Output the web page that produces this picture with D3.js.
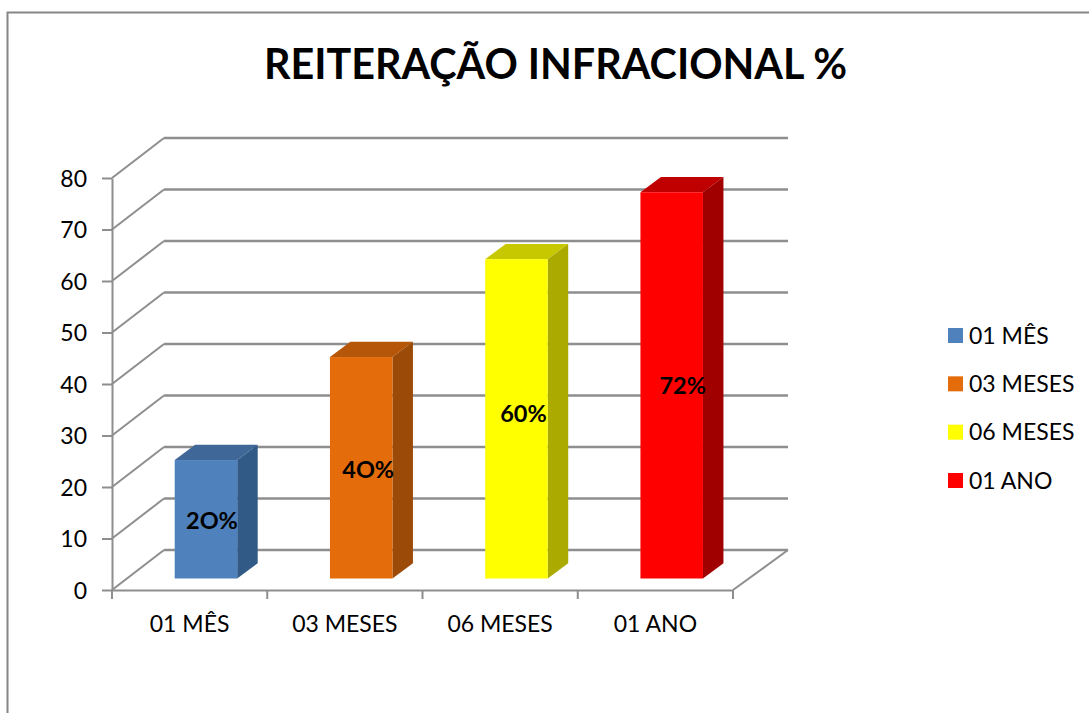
<!DOCTYPE html>
<html>
<head>
<meta charset="utf-8">
<script src="https://cdn.jsdelivr.net/npm/d3@7"></script>
<style>
  html, body { margin: 0; padding: 0; background: #fff; overflow: hidden; }
  text { font-family: Lato, "Open Sans", sans-serif; fill: #000; }
  .grid { stroke: #8e8e8e; stroke-width: 2.6; fill: none; }
  .diag { stroke: #8e8e8e; stroke-width: 2; fill: none; }
  .axis path, .axis line { stroke: #8e8e8e; stroke-width: 2; }
  .axis text { font-size: 23px; }
</style>
</head>
<body>
<svg id="chart" width="1089" height="713"></svg>
<script>
// values
var categories = ["01 MÊS", "03 MESES", "06 MESES", "01 ANO"];
var values = [23, 43, 62, 75];
var barLabels = ["2O%", "4O%", "60%", "72%"];
var yTicks = [0, 10, 20, 30, 40, 50, 60, 70, 80];
var frontColors = ["#4f81bd", "#e46c0a", "#ffff00", "#ff0000"];
var topColors = ["#3f6797", "#b65608", "#c8c800", "#c00000"];
var sideColors = ["#325a86", "#9c4a07", "#aaaa00", "#a00000"];

var svg = d3.select("#chart");

var x = d3.scaleBand().domain(categories).range([112, 733]);
var y = d3.scaleLinear().domain([0, 80]).range([590, 178]);

// 3d offsets: back wall, floor inset of a bar, bar depth
var wall = { dx: 52, dy: -40 };
var inset = { dx: 62.7, dy: -11.5 };
var depth = { dx: 20.5, dy: -15.3 };
var barWidth = 62.5;

// the data labels were placed by hand in the original chart
var labelShift = [[6, 1], [7, 2], [7, -5], [11, 0]];

// outer chart frame, cut by the page on the right and bottom
svg.append("path")
  .attr("d", "M7.5,713V12.5H1089")
  .attr("fill", "none")
  .attr("stroke", "#868686")
  .attr("stroke-width", 2);

svg.append("text")
  .attr("x", 555.5)
  .attr("y", 79)
  .attr("text-anchor", "middle")
  .attr("font-size", 41.3)
  .attr("font-weight", 700)
  .text("REITERAÇÃO INFRACIONAL %");

// back wall gridlines and the slanted side wall lines
svg.selectAll(".grid").data(yTicks).enter()
  .append("line")
  .attr("class", "grid")
  .attr("x1", x.range()[0] + wall.dx)
  .attr("x2", 788)
  .attr("y1", function(d) { return y(d) + wall.dy; })
  .attr("y2", function(d) { return y(d) + wall.dy; });

svg.selectAll(".diag").data(yTicks).enter()
  .append("line")
  .attr("class", "diag")
  .attr("x1", x.range()[0])
  .attr("x2", x.range()[0] + wall.dx)
  .attr("y1", function(d) { return y(d); })
  .attr("y2", function(d) { return y(d) + wall.dy; });

svg.append("line")
  .attr("class", "diag")
  .attr("x1", x.range()[1])
  .attr("x2", 788)
  .attr("y1", y(0))
  .attr("y2", y(0) + wall.dy);

var yAxis = svg.append("g")
  .attr("class", "axis")
  .attr("transform", "translate(" + x.range()[0] + ",0)")
  .call(d3.axisLeft(y).tickValues(yTicks).tickSize(10).tickSizeOuter(0).tickPadding(15));

yAxis.selectAll("text").attr("dy", "0.36em");

// band ticks sit between the categories, so they are added by hand below
var xAxis = svg.append("g")
  .attr("class", "axis")
  .attr("transform", "translate(0," + y(0) + ")")
  .call(d3.axisBottom(x).tickSize(0).tickSizeOuter(0).tickPadding(26));

xAxis.selectAll(".sep")
  .data(categories.map(function(c) { return x(c); }).concat(x.range()[1]))
  .enter()
  .append("line")
  .attr("class", "sep")
  .attr("x1", function(d) { return d; })
  .attr("x2", function(d) { return d; })
  .attr("y1", 0)
  .attr("y2", 9);

// bars
var bars = svg.selectAll(".bar").data(categories).enter()
  .append("g")
  .attr("class", "bar");

bars.each(function(c, i) {
  var g = d3.select(this);
  var left = x(c) + inset.dx;
  var right = left + barWidth;
  var bottom = y(0) + inset.dy;
  var top = bottom - (y(0) - y(values[i]));

  g.append("path")
    .attr("fill", topColors[i])
    .attr("d", d3.line()([[left, top], [left + depth.dx, top + depth.dy],
      [right + depth.dx, top + depth.dy], [right, top]]) + "Z");

  g.append("path")
    .attr("fill", sideColors[i])
    .attr("d", d3.line()([[right, top], [right + depth.dx, top + depth.dy],
      [right + depth.dx, bottom + depth.dy], [right, bottom]]) + "Z");

  g.append("rect")
    .attr("x", left)
    .attr("y", top)
    .attr("width", barWidth)
    .attr("height", bottom - top)
    .attr("fill", frontColors[i]);

  g.append("text")
    .attr("x", (left + right) / 2 + labelShift[i][0])
    .attr("y", (top + bottom) / 2 + labelShift[i][1])
    .attr("dy", "0.35em")
    .attr("text-anchor", "middle")
    .attr("font-size", 23.5)
    .attr("font-weight", 700)
    .text(barLabels[i]);
});

// legend
var legendY = d3.scalePoint().domain(categories).range([335.5, 480.5]);
var legend = svg.selectAll(".legend").data(categories).enter()
  .append("g")
  .attr("class", "legend")
  .attr("transform", function(c) { return "translate(948," + legendY(c) + ")"; });

legend.append("rect")
  .attr("y", -7.5)
  .attr("width", 15)
  .attr("height", 15)
  .attr("fill", function(c, i) { return frontColors[i]; });

legend.append("text")
  .attr("x", 21)
  .attr("dy", "0.35em")
  .attr("font-size", 23)
  .text(function(c) { return c; });
</script>
</body>
</html>
